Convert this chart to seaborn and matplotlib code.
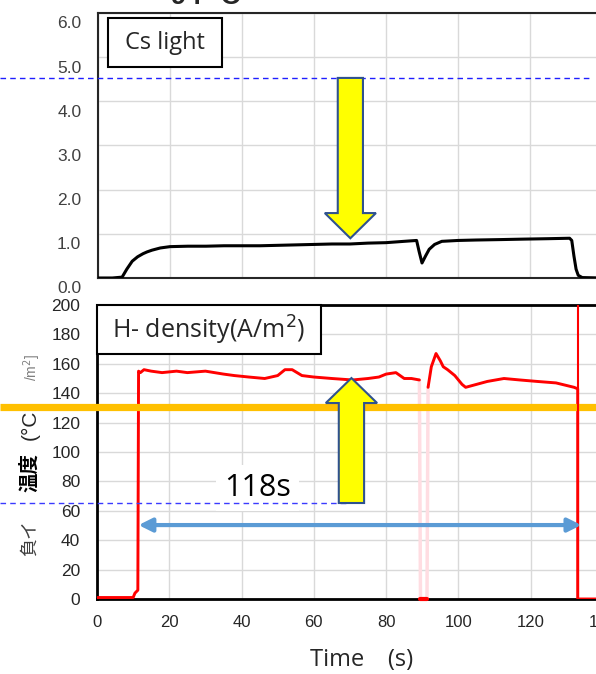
import numpy as np
import pandas as pd
import seaborn as sns
import matplotlib.pyplot as plt
import matplotlib.transforms as mtransforms
from matplotlib.patches import Rectangle, FancyArrow
from matplotlib.lines import Line2D

# ---------------- data ----------------
cs_time = [0, 4, 6.7, 8, 9.5, 11, 12.5, 13.6, 15, 17.3, 20, 25, 30, 35, 40, 45, 50,
           55, 60, 65, 70, 75, 80, 85, 88.5, 89.2, 90, 91, 92, 93.5, 95.5, 100, 105,
           112, 118, 125, 131, 131.6, 132.2, 132.8, 133.4, 134.5, 140]
cs_val = [0, 0, 0.02, 0.2, 0.38, 0.48, 0.55, 0.59, 0.63, 0.68, 0.71, 0.72, 0.72, 0.73,
          0.73, 0.73, 0.74, 0.75, 0.76, 0.77, 0.77, 0.79, 0.80, 0.83, 0.85, 0.60, 0.34,
          0.50, 0.65, 0.76, 0.83, 0.85, 0.86, 0.87, 0.88, 0.89, 0.90, 0.85, 0.50, 0.20,
          0.06, 0.01, 0]

h_time_a = [0, 5, 10, 10.5, 11.3, 11.5, 12, 13, 15, 18, 22, 25, 30, 35, 38, 42, 46.4,
            50, 52, 54, 56.7, 60, 65, 70.7, 75, 78, 80, 82.7, 85, 87, 89.2]
h_val_a = [1, 1, 1, 4, 6, 155, 154, 156, 155, 154, 155, 154, 155, 153, 152, 151, 150,
           152, 156, 156, 152, 151, 150, 149, 150, 151, 153, 154, 150, 150, 149]
h_time_gap = [89.2, 89.5, 91.3, 91.6]
h_val_gap = [149, 0, 0, 144]
h_time_c = [91.6, 92.5, 93.8, 95, 95.8, 97, 99, 101, 102, 105, 108, 112.6, 117, 121.8,
            127, 132, 133, 133, 140]
h_val_c = [144, 158, 167, 162, 158, 156, 152, 146, 144, 146, 148, 150, 149, 148, 147,
           144, 143, 0, 0]

x_ticks = [0, 20, 40, 60, 80, 100, 120, 140]
top_yticks = [0, 1, 2, 3, 4, 5, 6]
bot_yticks = [0, 20, 40, 60, 80, 100, 120, 140, 160, 180, 200]

# ---------------- figure ----------------
sns.set_theme(style="white")
plt.rcParams['font.family'] = ['Liberation Sans', 'Noto Sans CJK JP', 'DejaVu Sans']

W, H = 596, 674
def fx(x):
    return x / W
def fy(y):
    return 1 - y / H

fig = plt.figure(figsize=(W / 100, H / 100), dpi=100)
ax1 = fig.add_axes([fx(98), fy(278), (602 - 98) / W, (278 - 13) / H])
ax2 = fig.add_axes([fx(97), fy(599), (603 - 97) / W, (599 - 305) / H])

grid_kw = dict(color='#D9D9D9', lw=1)

# ---- top panel: Cs light ----
df_cs = pd.DataFrame({'t': cs_time, 'v': cs_val})
sns.lineplot(data=df_cs, x='t', y='v', ax=ax1, color='black', lw=2.2, estimator=None,
             sort=False, zorder=3)
ax1.set_xlim(0, 140)
ax1.set_ylim(0, 6)
ax1.set_xticks(x_ticks)
ax1.set_yticks(top_yticks)
ax1.set_yticklabels([f'{v:.1f}' for v in top_yticks], fontsize=12.5, color='#404040')
ax1.tick_params(axis='x', labelbottom=False, length=0)
ax1.tick_params(axis='y', length=0, pad=12)
ax1.grid(True, **grid_kw)
ax1.set_axisbelow(True)
ax1.set_xlabel('')
ax1.set_ylabel('')
for s in ['left', 'top', 'bottom']:
    ax1.spines[s].set_color('#262626')
    ax1.spines[s].set_linewidth(1.5)
ax1.spines['right'].set_visible(False)
off = mtransforms.ScaledTranslation(0, -0.095, fig.dpi_scale_trans)
for lbl in ax1.get_yticklabels():
    lbl.set_transform(lbl.get_transform() + off)

# ---- bottom panel: H- density ----
df_a = pd.DataFrame({'t': h_time_a, 'v': h_val_a})
df_c = pd.DataFrame({'t': h_time_c, 'v': h_val_c})
df_g = pd.DataFrame({'t': h_time_gap, 'v': h_val_gap})
sns.lineplot(data=df_g, x='t', y='v', ax=ax2, color='#FFDDE2', lw=2.5, estimator=None,
             sort=False, zorder=2.6)
sns.lineplot(data=df_g.iloc[1:3], x='t', y='v', ax=ax2, color='#FF0000', lw=3,
             estimator=None, sort=False, zorder=3, clip_on=False)
sns.lineplot(data=df_a, x='t', y='v', ax=ax2, color='#FF0000', lw=2.1, estimator=None,
             sort=False, zorder=3)
sns.lineplot(data=df_c, x='t', y='v', ax=ax2, color='#FF0000', lw=2.1, estimator=None,
             sort=False, zorder=3)
ax2.set_xlim(0, 140)
ax2.set_ylim(0, 200)
ax2.set_xticks(x_ticks)
ax2.set_yticks(bot_yticks)
ax2.tick_params(axis='both', length=0, labelsize=12.5, labelcolor='#262626')
ax2.tick_params(axis='x', pad=11.5, labelsize=12)
ax2.tick_params(axis='y', pad=12)
ax2.grid(True, **grid_kw)
ax2.set_axisbelow(True)
ax2.set_xlabel('')
ax2.set_ylabel('')
for s in ['left', 'top', 'bottom']:
    ax2.spines[s].set_color('black')
    ax2.spines[s].set_linewidth(2)
ax2.spines['right'].set_visible(False)

# red marker line at end of pulse
ax2.axvline(133, color='#FF0000', lw=1.5, zorder=6)

# ---- annotations ----
trans_top = mtransforms.blended_transform_factory(fig.transFigure, ax1.transData)
trans_bot = mtransforms.blended_transform_factory(fig.transFigure, ax2.transData)

ax1.add_line(Line2D([0, fx(592)], [4.53, 4.53], transform=trans_top, color='#1F1FFF',
                    lw=1, dashes=(4, 3), clip_on=False, zorder=5))
ax2.add_line(Line2D([0, fx(348)], [65.3, 65.3], transform=trans_bot, color='#3A3AFF',
                    lw=1, dashes=(4, 3), clip_on=False, zorder=5))
ax2.add_line(Line2D([0, 1], [130.6, 130.6], transform=trans_bot, color='#FFC000',
                    lw=5.2, solid_capstyle='butt', clip_on=False, zorder=5))

ax1.add_patch(FancyArrow(70.1, 4.53, 0, -3.63, width=7.0, head_width=14.2,
                         head_length=0.57, length_includes_head=True,
                         facecolor='#FFFF00', edgecolor='#2F528F', lw=1.5, zorder=6))
ax2.add_patch(FancyArrow(70.4, 65.3, 0, 85.0, width=7.0, head_width=14.2,
                         head_length=17, length_includes_head=True,
                         facecolor='#FFFF00', edgecolor='#2F528F', lw=1.5, zorder=7))

ax2.annotate('', xy=(134, 50.3), xytext=(11.5, 50.3),
             arrowprops=dict(arrowstyle='<|-|>', color='#5B9BD5', lw=3,
                             mutation_scale=20, shrinkA=0, shrinkB=0), zorder=6)

ax2.text(44.4, 75.5, '118s', fontsize=22, family='Open Sans', ha='center', va='center',
         color='black', bbox=dict(facecolor='white', edgecolor='none', pad=6), zorder=4)

# label boxes
fig.add_artist(Rectangle((fx(108), fy(67)), (222 - 108) / W, (67 - 18) / H,
                         transform=fig.transFigure, facecolor='white',
                         edgecolor='black', lw=1.5, zorder=10))
fig.text(fx(165), fy(43), 'Cs light', family='Open Sans', fontsize=17, ha='center',
         va='center', zorder=11)
fig.add_artist(Rectangle((fx(97), fy(354)), (321 - 97) / W, (354 - 305) / H,
                         transform=fig.transFigure, facecolor='white',
                         edgecolor='black', lw=1.5, zorder=10))
fig.text(fx(112), fy(330), 'H- density(A/m$^2$)', family='Open Sans', fontsize=18,
         ha='left', va='center', zorder=11)

# axis label and fragments
fig.text(fx(362), fy(660), 'Time\u3000(s)', family=['Open Sans', 'Noto Sans CJK JP'],
         fontsize=17, ha='center', va='center')
fig.text(fx(147), fy(4), '= 94 °C', fontsize=20, fontweight='bold', ha='left',
         va='baseline')
fig.text(fx(30), fy(538), '負イ', family=['Noto Sans CJK JP'], fontsize=13,
         rotation=90, ha='center', va='center', color='#404040')
fig.text(fx(30), fy(472), '温度', family=['Noto Sans CJK JP'], fontsize=14,
         fontweight='bold', rotation=90, ha='center', va='center', color='black')
fig.text(fx(30), fy(425), '(°C', family=['Liberation Sans'], fontsize=15,
         rotation=90, ha='center', va='center', color='#262626')
fig.text(fx(32), fy(368), '/m$^2$]', family=['Liberation Sans'], fontsize=10,
         rotation=90, ha='center', va='center', color='#7F7F7F')

fig.savefig('out.png', dpi=100)
